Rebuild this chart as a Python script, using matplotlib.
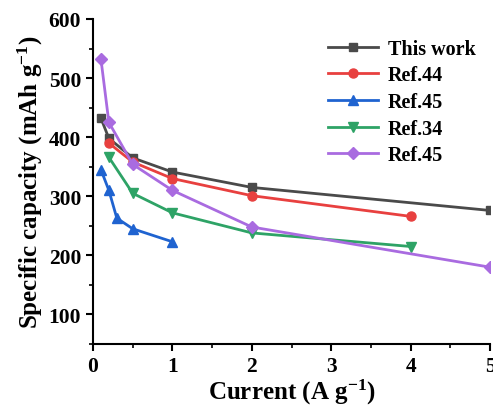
import matplotlib
matplotlib.use("Agg")
from matplotlib import pyplot as plt
from matplotlib.ticker import MultipleLocator

plt.rcParams['font.family'] = ['Liberation Serif', 'DejaVu Serif']
plt.rcParams['font.weight'] = 'bold'
plt.rcParams['mathtext.fontset'] = 'custom'
plt.rcParams['mathtext.rm'] = 'Liberation Serif:bold'
plt.rcParams['mathtext.default'] = 'rm'

x_this = [0.1, 0.2, 0.5, 1, 2, 5]
y_this = [432, 398, 365, 341, 315, 276]
x_r44 = [0.2, 0.5, 1, 2, 4]
y_r44 = [390, 358, 330, 301, 266]
x_r45a = [0.1, 0.2, 0.3, 0.5, 1]
y_r45a = [345, 310, 263, 245, 223]
x_r34 = [0.2, 0.5, 1, 2, 4]
y_r34 = [366, 305, 272, 238, 215]
x_r45b = [0.1, 0.2, 0.5, 1, 2, 5]
y_r45b = [532, 425, 354, 310, 248, 180]

fig = plt.figure(figsize=(4.93, 4.10), dpi=100)
ax = fig.add_axes([93/493, 65/410, 397/493, 325/410])

ax.plot(x_this, y_this, color='#4a4a4a', marker='s', ms=6, lw=2, label='This work')
ax.plot(x_r44, y_r44, color='#e8403f', marker='o', ms=6.5, lw=2, label='Ref.44')
ax.plot(x_r45a, y_r45a, color='#1f63d0', marker='^', ms=7, lw=2, label='Ref.45')
ax.plot(x_r34, y_r34, color='#2ea366', marker='v', ms=7, lw=2, label='Ref.34')
ax.plot(x_r45b, y_r45b, color='#a96be0', marker='D', ms=6, lw=2, label='Ref.45')

ax.set_xlim(0, 5)
ax.set_ylim(50, 600)
ax.xaxis.set_major_locator(MultipleLocator(1))
ax.xaxis.set_minor_locator(MultipleLocator(0.5))
ax.yaxis.set_minor_locator(MultipleLocator(50))
ax.set_yticks([100, 200, 300, 400, 500, 600])
ax.spines['top'].set_visible(False)
ax.spines['right'].set_visible(False)
ax.spines['left'].set_linewidth(1.5)
ax.spines['bottom'].set_linewidth(1.5)
ax.tick_params(which='major', length=5, width=1.5, labelsize=15.5)
ax.tick_params(which='minor', length=3, width=1.2)

ax.set_xlabel('Current (A g$^{-1}$)', fontsize=18, fontweight='bold', labelpad=1)
ax.set_ylabel('Specific capacity (mAh g$^{-1}$)', fontsize=18, fontweight='bold', labelpad=3)

leg = ax.legend(loc='upper right', frameon=False, fontsize=14.5, handlelength=2.5,
                labelspacing=0.33, handletextpad=0.5, bbox_to_anchor=(1.01, 0.995))

fig.savefig('out.png', dpi=100)
